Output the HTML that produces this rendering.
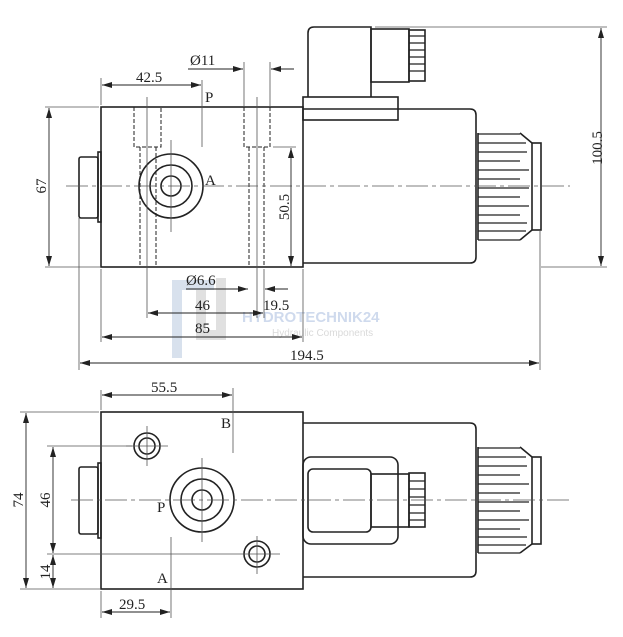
<!DOCTYPE html>
<html><head><meta charset="utf-8"><style>
html,body{margin:0;padding:0;background:#fff}
svg{display:block}
text{font-family:"Liberation Serif",serif;font-size:15px;fill:#222}
</style></head><body>
<svg width="623" height="637" viewBox="0 0 623 637" xmlns="http://www.w3.org/2000/svg">
<defs>
<marker id="a" viewBox="0 0 10 6" refX="10" refY="3" markerWidth="10" markerHeight="6" orient="auto-start-reverse" markerUnits="userSpaceOnUse"><path d="M0,0 L10,3 L0,6z" fill="#222"/></marker>
</defs>
<g opacity="0.55">
<rect x="172" y="280" width="10" height="78" fill="#b9c9e0"/>
<rect x="172" y="280" width="42" height="10" fill="#b9c9e0"/>
<rect x="196" y="290" width="10" height="50" fill="#c8c8c8"/>
<rect x="196" y="330" width="30" height="10" fill="#c8c8c8"/>
<rect x="216" y="278" width="10" height="62" fill="#c8c8c8"/>
<text x="242" y="322" style="font-size:15px;font-weight:bold;fill:#a8bde0;font-family:'Liberation Sans',sans-serif">HYDROTECHNIK24</text>
<text x="272" y="336" style="font-size:10px;fill:#bbb;font-family:'Liberation Sans',sans-serif">Hydraulic Components</text>
</g>
<g fill="none" stroke="#222" stroke-width="1">
<g stroke-width="1.6">
<rect x="101" y="107" width="202" height="160"/>
<path d="M303,109 H470 Q476,109 476,115 V257 Q476,263 470,263 H303"/>
<rect x="303" y="97" width="95" height="23"/>
<path d="M308,97 V33 Q308,27 314,27 H371 V97"/>
<rect x="371" y="29" width="38" height="53"/>
<rect x="409" y="30" width="16" height="51"/>
<rect x="79" y="157" width="19" height="61" rx="2"/>
<rect x="98" y="152" width="3" height="70"/>
<circle cx="171" cy="186" r="32"/>
<circle cx="171" cy="186" r="21"/>
<circle cx="171" cy="186" r="10"/>
<path d="M478,133 V240 M520,133 L532,143 M520,240 L532,230"/>
<rect x="532" y="143" width="9" height="87"/>
</g>
<g stroke-width="1.2">
<path d="M409,36 H425 M409,43 H425 M409,50 H425 M409,57 H425 M409,64 H425 M409,71 H425"/>
<path d="M478,134 H520 M478,143 H526 M478,152 H527 M478,161 H520 M478,170 H529 M478,179 H520 M478,188 H529 M478,197 H520 M478,206 H529 M478,215 H520 M478,223 H527 M478,231 H526 M478,240 H520"/>
</g>
<g stroke-dasharray="4,2" stroke-width="1">
<path d="M134,107 V147 H161 V107 M140,147 V267 M156,147 V267"/>
<path d="M244,107 V147 H270 V107 M249,147 V267 M264,147 V267"/>
</g>
<g stroke="#555" stroke-width="0.8">
<path d="M66,186 H570" stroke-dasharray="22,4,4,4"/>
<path d="M171,140 V232"/>
<path d="M147,97 V318 M257,97 V318"/>
<path d="M202,80 V147"/>
<path d="M45,107 H99 M45,267 H101 M375,27 H607 M541,267 H607 M273,147 H296"/>
<path d="M101,78 V105 M244,62 V107 M270,62 V107"/>
<path d="M101,269 V342 M303,269 V342 M79,218 V370 M540,230 V370 M264,269 V318"/>
</g>
<g stroke-width="0.9">
<path d="M49,108 V266" marker-start="url(#a)" marker-end="url(#a)"/>
<path d="M601,28 V266" marker-start="url(#a)" marker-end="url(#a)"/>
<path d="M291,148 V266" marker-start="url(#a)" marker-end="url(#a)"/>
<path d="M102,85 H201" marker-start="url(#a)" marker-end="url(#a)"/>
<path d="M188,69 H243" marker-end="url(#a)"/>
<path d="M294,69 H271" marker-end="url(#a)"/>
<path d="M186,289 H248" marker-end="url(#a)"/>
<path d="M288,289 H265" marker-end="url(#a)"/>
<path d="M148,313 H263" marker-start="url(#a)" marker-end="url(#a)"/>
<path d="M102,337 H302" marker-start="url(#a)" marker-end="url(#a)"/>
<path d="M80,363 H539" marker-start="url(#a)" marker-end="url(#a)"/>
</g>
<g stroke-width="1.6">
<rect x="101" y="412" width="202" height="177"/>
<path d="M303,423 H470 Q476,423 476,429 V571 Q476,577 470,577 H303"/>
<rect x="303" y="457" width="95" height="87" rx="8"/>
<rect x="308" y="469" width="63" height="63" rx="5"/>
<rect x="371" y="474" width="38" height="53"/>
<rect x="409" y="473" width="16" height="54"/>
<rect x="79" y="467" width="19" height="67" rx="2"/>
<rect x="98" y="463" width="3" height="75"/>
<circle cx="202" cy="500" r="32"/>
<circle cx="202" cy="500" r="21"/>
<circle cx="202" cy="500" r="10"/>
<circle cx="147" cy="446" r="13"/>
<circle cx="147" cy="446" r="8"/>
<circle cx="257" cy="554" r="13"/>
<circle cx="257" cy="554" r="8"/>
<path d="M478,447 V553 M520,447 L532,457 M520,553 L532,544"/>
<rect x="532" y="457" width="9" height="87"/>
</g>
<g stroke-width="1.2">
<path d="M409,481 H425 M409,489 H425 M409,497 H425 M409,505 H425 M409,513 H425 M409,520 H425"/>
<path d="M478,448 H520 M478,457 H526 M478,466 H527 M478,475 H520 M478,484 H529 M478,493 H520 M478,502 H529 M478,511 H520 M478,520 H529 M478,529 H520 M478,537 H527 M478,545 H526 M478,553 H520"/>
</g>
<g stroke="#555" stroke-width="0.8">
<path d="M71,500 H569" stroke-dasharray="22,4,4,4"/>
<path d="M202,458 V542 M126,446 H168 M147,426 V466 M240,554 H280 M257,536 V574"/>
<path d="M233,388 V453 M171,537 V618"/>
<path d="M101,390 V410 M20,412 H99 M20,589 H101 M47,446 H132 M47,554 H240"/>
<path d="M101,591 V618"/>
</g>
<g stroke-width="0.9">
<path d="M102,395 H232" marker-start="url(#a)" marker-end="url(#a)"/>
<path d="M26,413 V588" marker-start="url(#a)" marker-end="url(#a)"/>
<path d="M53,447 V553" marker-start="url(#a)" marker-end="url(#a)"/>
<path d="M53,555 V588" marker-start="url(#a)" marker-end="url(#a)"/>
<path d="M102,612 H170" marker-start="url(#a)" marker-end="url(#a)"/>
</g>
</g>
<text x="136" y="82">42.5</text>
<text x="190" y="65">Ø11</text>
<text x="205" y="102">P</text>
<text x="205" y="185">A</text>
<text x="186" y="285">Ø6.6</text>
<text x="195" y="310">46</text>
<text x="263" y="310">19.5</text>
<text x="195" y="333">85</text>
<text x="290" y="360">194.5</text>
<text transform="translate(46,186) rotate(-90)" text-anchor="middle">67</text>
<text transform="translate(289,207) rotate(-90)" text-anchor="middle">50.5</text>
<text transform="translate(602,148) rotate(-90)" text-anchor="middle">100.5</text>
<text x="151" y="392">55.5</text>
<text x="221" y="428">B</text>
<text x="157" y="512">P</text>
<text x="157" y="583">A</text>
<text x="119" y="609">29.5</text>
<text transform="translate(23,500) rotate(-90)" text-anchor="middle">74</text>
<text transform="translate(50,500) rotate(-90)" text-anchor="middle">46</text>
<text transform="translate(50,572) rotate(-90)" text-anchor="middle">14</text>
</svg>
</body></html>
